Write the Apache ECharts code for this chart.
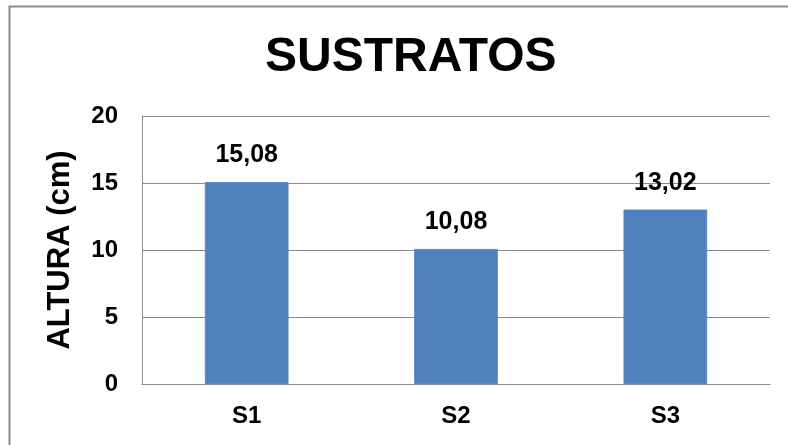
<!DOCTYPE html>
<html>
<head>
<meta charset="utf-8">
<script src="https://cdn.jsdelivr.net/npm/echarts@6/dist/echarts.min.js"></script>
<style>
  html, body { margin: 0; padding: 0; background: #fff; }
  #chart { width: 788px; height: 445px; }
</style>
</head>
<body>
<div id="chart"></div>
<script>
// Substrate categories and mean plant height (cm)
const categories = ['S1', 'S2', 'S3'];
const heights = [15.08, 10.08, 13.02];
const yTicks = { min: 0, max: 20, interval: 5 };

const FONT = '"Liberation Sans", Arial, sans-serif';

const chart = echarts.init(document.getElementById('chart'), null, { renderer: 'canvas' });

chart.setOption({
  backgroundColor: '#ffffff',
  animation: false,
  title: {
    text: 'SUSTRATOS',
    left: 260,
    top: 29,
    textStyle: { fontFamily: FONT, fontSize: 48, fontWeight: 'bold', color: '#000' }
  },
  graphic: [{
    type: 'rect',
    shape: { x: 9.5, y: 6.5, width: 800, height: 460 },
    style: { fill: 'none', stroke: '#8c8c8c', lineWidth: 2 },
    silent: true
  }],
  grid: { left: 142, right: 18, top: 116, bottom: 61 },
  xAxis: {
    type: 'category',
    data: categories,
    axisLine: { show: true, lineStyle: { color: '#8c8c8c', width: 1 } },
    axisTick: { show: false },
    axisLabel: { margin: 20, fontFamily: FONT, fontSize: 24, fontWeight: 'bold', color: '#000' }
  },
  yAxis: {
    type: 'value',
    min: yTicks.min,
    max: yTicks.max,
    interval: yTicks.interval,
    name: 'ALTURA (cm)',
    nameLocation: 'middle',
    nameGap: 66,
    nameTextStyle: { fontFamily: FONT, fontSize: 31, fontWeight: 'bold', color: '#000' },
    axisLine: { show: true, lineStyle: { color: '#8c8c8c', width: 1 } },
    axisTick: { show: false },
    axisLabel: { margin: 24, fontFamily: FONT, fontSize: 24, fontWeight: 'bold', color: '#000' },
    splitLine: { show: true, lineStyle: { color: '#8c8c8c', width: 1 } }
  },
  series: [{
    type: 'bar',
    data: heights,
    barWidth: '40%',
    itemStyle: { color: '#4f81bd', borderColor: '#5a8ac6', borderWidth: 1 },
    label: {
      show: true,
      position: 'top',
      distance: 14,
      fontFamily: FONT,
      fontSize: 25,
      fontWeight: 'bold',
      color: '#000',
      formatter: p => p.value.toFixed(2).replace('.', ',')
    }
  }]
});
</script>
</body>
</html>
